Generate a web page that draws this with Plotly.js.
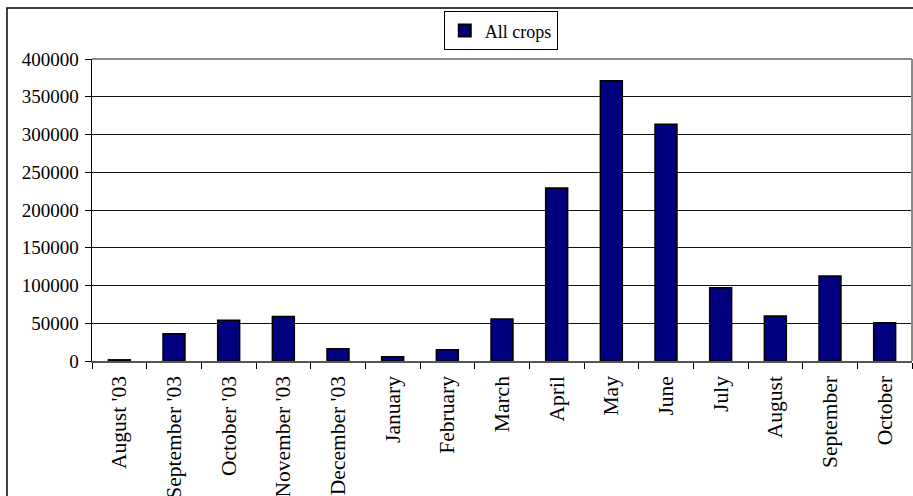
<!DOCTYPE html>
<html>
<head>
<meta charset="utf-8">
<script src="https://cdn.plot.ly/plotly-3.0.1.min.js"></script>
<style>
  html, body { margin: 0; padding: 0; background: #ffffff; }
  #chart { width: 913px; height: 496px; }
</style>
</head>
<body>
<div id="chart"></div>
<script>
// Monthly totals, August 2003 to October 2004
const months = ["August '03", "September '03", "October '03", "November '03", "December '03",
                "January", "February", "March", "April", "May", "June",
                "July", "August", "September", "October"];
const allCrops = [1500, 36000, 54000, 59000, 16000, 5500, 15000, 55500,
                  229000, 371000, 313500, 97000, 59500, 112500, 50500];
const yTicks = [0, 50000, 100000, 150000, 200000, 250000, 300000, 350000, 400000];
const seriesName = "All crops";

const serif = "'Liberation Serif', 'Times New Roman', serif";

const trace = {
  type: "bar",
  x: months,
  y: allCrops,
  name: seriesName,
  width: 0.4,
  marker: { color: "#000080", line: { color: "#000000", width: 1.6 } },
  showlegend: true,
  hoverinfo: "x+y"
};

const layout = {
  width: 913,
  height: 496,
  margin: { l: 92, r: 1, t: 59, b: 135 },
  paper_bgcolor: "#ffffff",
  plot_bgcolor: "#ffffff",
  font: { family: serif, color: "#000000" },
  showlegend: true,
  legend: {
    x: 0.4985, xanchor: "center",
    y: 1.158, yanchor: "top",
    bordercolor: "#000000", borderwidth: 1,
    bgcolor: "#ffffff",
    font: { family: serif, size: 18, color: "#000000" },
    itemwidth: 30,
    itemsizing: "constant"
  },
  xaxis: {
    type: "category",
    tickson: "boundaries",
    ticks: "outside",
    ticklen: 6,
    tickcolor: "#000000",
    tickwidth: 1,
    tickangle: -90,
    ticklabelstandoff: 5,
    tickfont: { family: serif, size: 21.5, color: "#000000" },
    showgrid: false,
    showline: true,
    linecolor: "#555555",
    linewidth: 1.5,
    zeroline: false,
    range: [-0.5, months.length - 0.5],
    fixedrange: true
  },
  yaxis: {
    range: [0, 400000],
    tickvals: yTicks,
    ticktext: yTicks.map(String),
    ticks: "outside",
    ticklen: 6,
    tickcolor: "#000000",
    tickwidth: 1,
    tickfont: { family: serif, size: 19, color: "#000000" },
    ticklabelstandoff: 2,
    showgrid: true,
    gridcolor: "#111111",
    gridwidth: 1,
    showline: true,
    linecolor: "#000000",
    linewidth: 1.5,
    zeroline: false,
    fixedrange: true
  },
  shapes: [
    // plot area frame (top and right edges in grey)
    { type: "line", xref: "paper", yref: "paper", x0: 0, x1: 1, y0: 1, y1: 1,
      line: { color: "#8a8a8a", width: 2 }, layer: "above" },
    { type: "line", xref: "paper", yref: "paper", x0: 1, x1: 1, y0: 0, y1: 1,
      line: { color: "#8a8a8a", width: 2 }, layer: "above" },
    // outer chart border
    { type: "rect", xref: "paper", yref: "paper",
      x0: -0.1037, x1: 1.02, y0: -0.6, y1: 1.1689,
      line: { color: "#000000", width: 1.5 }, fillcolor: "rgba(0,0,0,0)", layer: "above" }
  ]
};

Plotly.newPlot("chart", [trace], layout, { displayModeBar: false, staticPlot: true });
</script>
</body>
</html>
